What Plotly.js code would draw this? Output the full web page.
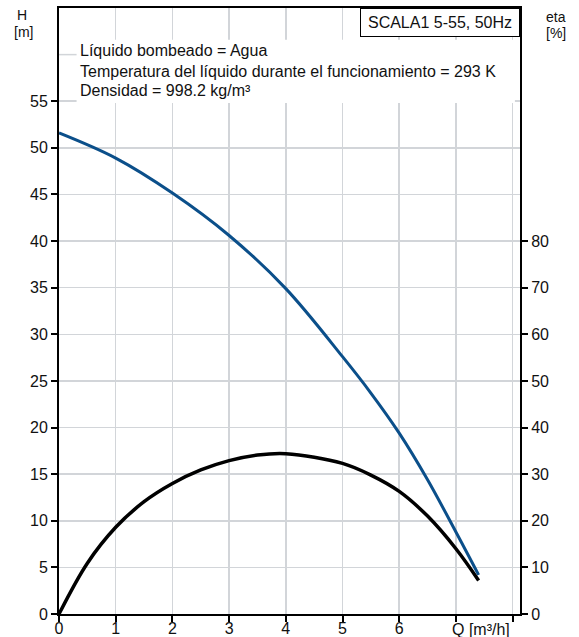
<!DOCTYPE html>
<html>
<head>
<meta charset="utf-8">
<script src="https://cdn.plot.ly/plotly-3.0.1.min.js"></script>
<style>html,body{margin:0;padding:0;background:#fff;}#chart{width:579px;height:637px;}</style>
</head>
<body>
<div id="chart"></div>
<script>
// Flow Q [m³/h] and head H [m]
var qHead = [0, 1, 2, 3, 4, 5, 5.5, 6, 6.5, 7, 7.4];
var head  = [51.6, 48.9, 45.15, 40.6, 34.9, 27.6, 23.7, 19.4, 14.4, 8.8, 4.2];
// Flow Q [m³/h] and efficiency eta [%]
var qEta = [0, 0.5, 1, 1.5, 2, 2.5, 3, 3.5, 4, 5, 5.5, 6, 6.5, 7, 7.4];
var eta  = [0, 10.9, 18.6, 24.1, 28.0, 30.9, 32.9, 34.1, 34.4, 32.3, 29.8, 26.3, 21.0, 14.0, 7.2];

var xTickVals = [0, 1, 2, 3, 4, 5, 6, 7, 8];
var xTickText = ['0', '1', '2', '3', '4', '5', '6', '', ''];
var hTickVals = [0, 5, 10, 15, 20, 25, 30, 35, 40, 45, 50, 55];
var etaTickVals = [0, 10, 20, 30, 40, 50, 60, 70, 80];

var infoLines = ['Líquido bombeado = Agua',
                 'Temperatura del líquido durante el funcionamiento = 293 K',
                 'Densidad = 998.2 kg/m³'];
var pumpLabel = 'SCALA1 5-55, 50Hz';

var font = {family: 'Liberation Sans, Arial, sans-serif', size: 16, color: '#111'};
var smallFont = {family: 'Liberation Sans, Arial, sans-serif', size: 14, color: '#111'};

var traces = [
  {x: qHead, y: head, mode: 'lines', line: {color: '#0b4f8a', width: 3, shape: 'spline', smoothing: 1}, yaxis: 'y', hoverinfo: 'skip'},
  {x: qEta, y: eta, mode: 'lines', line: {color: '#000', width: 3.5, shape: 'spline', smoothing: 1}, yaxis: 'y2', hoverinfo: 'skip'}
];

var ann = [];
function lbl(x, y, t) {
  return {xref: 'paper', yref: 'paper', x: x, y: y, xanchor: 'center', yanchor: 'middle', text: t, showarrow: false, font: smallFont};
}
ann.push(lbl(-0.080, 0.9880, 'H'));
ann.push(lbl(-0.078, 0.9610, '[m]'));
ann.push(lbl(1.0774, 0.9850, 'eta'));
ann.push(lbl(1.0774, 0.9585, '[%]'));
ann.push({xref: 'x', yref: 'paper', x: 7.45, y: -0.025, xanchor: 'center', yanchor: 'middle', text: 'Q [m³/h]', showarrow: false, font: font});
ann.push({xref: 'paper', yref: 'paper', x: 1, y: 1, xanchor: 'right', yanchor: 'top', text: pumpLabel,
          showarrow: false, font: font, bgcolor: '#fff', bordercolor: '#000', borderwidth: 1, borderpad: 0,
          width: 158, height: 27});
var lineY = [60.39, 58.14, 56.1];
for (var i = 0; i < infoLines.length; i++) {
  ann.push({xref: 'x', yref: 'y', x: 0.33, y: lineY[i], xanchor: 'left', yanchor: 'middle', text: infoLines[i], showarrow: false, font: font});
}

var layout = {
  width: 579, height: 637,
  margin: {l: 59, r: 59, t: 8, b: 23, pad: 0},
  paper_bgcolor: '#fff', plot_bgcolor: '#fff',
  showlegend: false,
  font: font,
  xaxis: {range: [0, 8.13], tickvals: xTickVals, ticktext: xTickText, ticks: 'outside', ticklen: 6, tickwidth: 2,
          tickcolor: '#000', showline: true, linecolor: '#000', linewidth: 2, mirror: true, ticklabelstandoff: -7,
          showgrid: true, gridcolor: '#d2d5d9', gridwidth: 1.5, zeroline: false, fixedrange: true, tickfont: font},
  yaxis: {range: [0, 65], tickvals: hTickVals, ticks: 'outside', ticklen: 6, tickwidth: 2, tickcolor: '#000',
          showline: true, linecolor: '#000', linewidth: 2, mirror: true,
          showgrid: true, gridcolor: '#d2d5d9', gridwidth: 1.5, zeroline: false, fixedrange: true, tickfont: font},
  yaxis2: {range: [0, 130], tickvals: etaTickVals, overlaying: 'y', side: 'right', ticks: 'outside', ticklen: 6,
           tickwidth: 2, tickcolor: '#000', showline: true, linecolor: '#000', linewidth: 2,
           showgrid: false, zeroline: false, fixedrange: true, tickfont: font},
  shapes: [
    {type: 'rect', xref: 'x', yref: 'y', x0: 0.31, x1: 8.04, y0: 54.8, y1: 61.6, fillcolor: '#fff', line: {width: 0}, layer: 'between'},
    {type: 'line', xref: 'x', yref: 'y', x0: 0, x1: 0.31, y0: 60, y1: 60, line: {color: '#d2d5d9', width: 1.5}, layer: 'between'}
  ],
  annotations: ann
};

Plotly.newPlot('chart', traces, layout, {staticPlot: true, displayModeBar: false});
</script>
</body>
</html>
